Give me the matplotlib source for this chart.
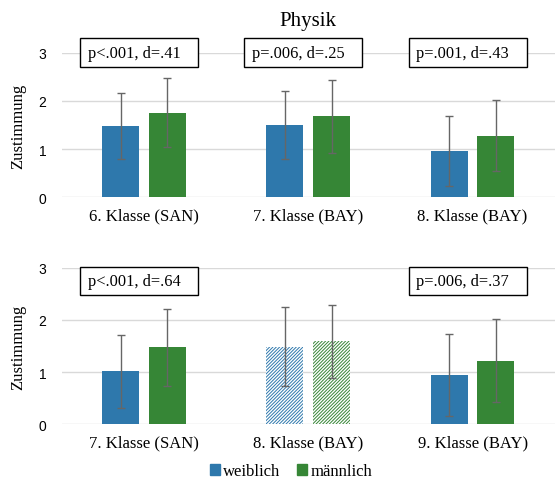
import matplotlib
matplotlib.use("Agg")
import matplotlib.pyplot as plt
from matplotlib.patches import Rectangle, Patch
import numpy as np

# ---- data ----
top_cats = ['6. Klasse (SAN)', '7. Klasse (BAY)', '8. Klasse (BAY)']
top_w = [1.48, 1.50, 0.96]
top_w_sd = [0.69, 0.71, 0.72]
top_m = [1.76, 1.68, 1.28]
top_m_sd = [0.72, 0.76, 0.73]
top_notes = ['p<.001, d=.41', 'p=.006, d=.25', 'p=.001, d=.43']

bot_cats = ['7. Klasse (SAN)', '8. Klasse (BAY)', '9. Klasse (BAY)']
bot_w = [1.02, 1.49, 0.94]
bot_w_sd = [0.70, 0.75, 0.79]
bot_m = [1.48, 1.59, 1.22]
bot_m_sd = [0.74, 0.70, 0.80]
bot_notes = ['p<.001, d=.64', None, 'p=.006, d=.37']
bot_hatched = [False, True, False]

blue = '#2E78AC'
green = '#368636'
serif = 'Liberation Serif'
sans = 'Liberation Sans'
plt.rcParams['hatch.linewidth'] = 0.7

fig = plt.figure(figsize=(5.57, 4.81), dpi=100)
ax1 = fig.add_axes([0.111, 0.588, 0.885, 0.300])
ax2 = fig.add_axes([0.111, 0.116, 0.885, 0.325])


def panel(ax, cats, w, wsd, m, msd, notes, hatched, box_y):
    x = np.arange(len(cats))
    bw = 0.225
    off = 0.142
    for i in range(len(cats)):
        if hatched[i]:
            ax.bar(x[i] - off, w[i], bw, facecolor='white', edgecolor=blue,
                   hatch='//////////', linewidth=0, zorder=2)
            ax.bar(x[i] + off, m[i], bw, facecolor='white', edgecolor=green,
                   hatch='//////////', linewidth=0, zorder=2)
        else:
            ax.bar(x[i] - off, w[i], bw, color=blue, zorder=2)
            ax.bar(x[i] + off, m[i], bw, color=green, zorder=2)
    ax.errorbar(x - off, w, yerr=wsd, fmt='none', ecolor='#666666',
                elinewidth=1, capsize=3, capthick=1, zorder=3)
    ax.errorbar(x + off, m, yerr=msd, fmt='none', ecolor='#666666',
                elinewidth=1, capsize=3, capthick=1, zorder=3)
    ax.set_xlim(-0.5, len(cats) - 0.5)
    ax.set_ylim(0, 3)
    ax.set_yticks([0, 1, 2, 3])
    ax.set_xticks(x)
    ax.set_xticklabels(cats, fontfamily=serif, fontsize=12)
    for lab in ax.get_yticklabels():
        lab.set_fontfamily(sans)
        lab.set_fontsize(10)
    ax.tick_params(length=0, axis='y', pad=11)
    ax.tick_params(length=0, axis='x', pad=7)
    ax.grid(axis='y', color='#d9d9d9', linewidth=1, zorder=0)
    ax.set_axisbelow(True)
    for s in ax.spines.values():
        s.set_visible(False)
    ax.set_ylabel('Zustimmung', fontfamily=serif, fontsize=12, labelpad=9)
    y0, y1 = box_y
    for i, note in enumerate(notes):
        if note is None:
            continue
        ax.add_patch(Rectangle((x[i] - 0.39, y0), 0.718, y1 - y0,
                               facecolor='white', edgecolor='black',
                               linewidth=1, clip_on=False, zorder=4))
        ax.text(x[i] - 0.342, (y0 + y1) / 2, note, ha='left', va='center',
                fontfamily=serif, fontsize=11.8, zorder=5)


panel(ax1, top_cats, top_w, top_w_sd, top_m, top_m_sd, top_notes,
      [False, False, False], (2.71, 3.30))
panel(ax2, bot_cats, bot_w, bot_w_sd, bot_m, bot_m_sd, bot_notes,
      bot_hatched, (2.47, 3.02))

ax1.set_title('Physik', fontfamily=serif, fontsize=15, pad=20)

handles = [Patch(color=blue, label='weiblich'), Patch(color=green, label='männlich')]
fig.legend(handles=handles, loc='center', bbox_to_anchor=(0.523, 0.018),
           ncol=2, frameon=False, prop={'family': serif, 'size': 12},
           handlelength=0.6, handleheight=0.6, handletextpad=0.2,
           columnspacing=1.0, borderpad=0)

fig.savefig('out.png', dpi=100)
